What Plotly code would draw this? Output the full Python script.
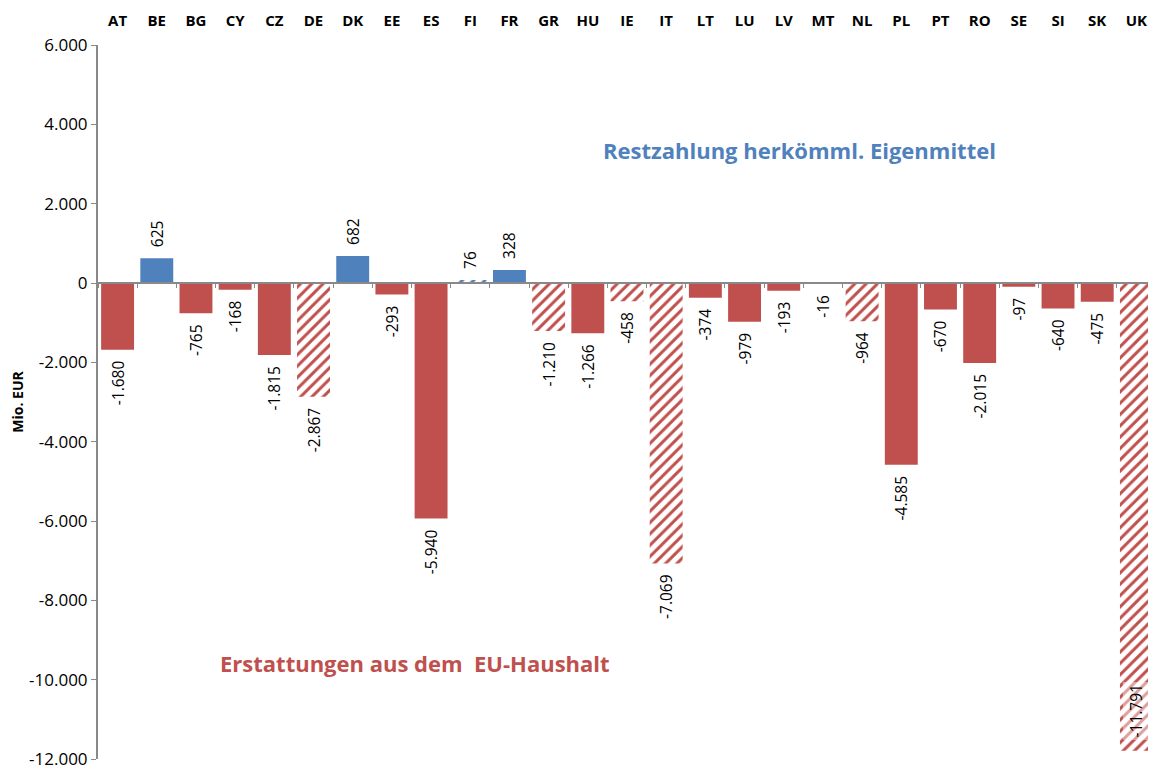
import plotly.graph_objects as go

countries = ["AT", "BE", "BG", "CY", "CZ", "DE", "DK", "EE", "ES", "FI", "FR", "GR", "HU", "IE",
             "IT", "LT", "LU", "LV", "MT", "NL", "PL", "PT", "RO", "SE", "SI", "SK", "UK"]
values = [-1680, 625, -765, -168, -1815, -2867, 682, -293, -5940, 76, 328, -1210, -1266, -458,
          -7069, -374, -979, -193, -16, -964, -4585, -670, -2015, -97, -640, -475, -11791]
hatched = ["DE", "FI", "GR", "IE", "IT", "NL", "UK"]
inside_label = ["UK"]

label_pos = "Restzahlung herkömml. Eigenmittel"
label_neg = "Erstattungen aus dem  EU-Haushalt"
y_ticks = [6000, 4000, 2000, 0, -2000, -4000, -6000, -8000, -10000, -12000]

BLUE = "#4F81BD"
RED = "#C0504D"
FONT = "Open Sans"
PAD = "\u00a0\u00a0"


def fmt(v):
    s = f"{abs(v):,}".replace(",", ".")
    return ("-" if v < 0 else "") + s


colors = [BLUE if v > 0 else RED for v in values]
shapes = ["/" if c in hatched else "" for c in countries]
texts = []
for c, v in zip(countries, values):
    if c in inside_label:
        texts.append("")
    elif v >= 0:
        texts.append(PAD + fmt(v))
    else:
        texts.append(fmt(v) + PAD)

fig = go.Figure()
fig.add_trace(go.Bar(
    x=countries, y=values,
    marker=dict(color=colors, line=dict(width=0),
                pattern=dict(shape=shapes, bgcolor=colors, fgcolor="white",
                             size=8, solidity=0.38, fillmode="replace")),
    text=texts, textposition="outside", textangle=-90, constraintext="none",
    textfont=dict(family=FONT, size=15.5, color="#000000"),
    cliponaxis=False, showlegend=False, hoverinfo="skip",
))
# axis line at zero with boundary ticks
fig.add_trace(go.Bar(x=countries, y=[0] * len(countries), xaxis="x2", showlegend=False,
                     hoverinfo="skip", marker=dict(color="rgba(0,0,0,0)")))

for c, v in zip(countries, values):
    if c in inside_label:
        fig.add_annotation(x=c, y=v + 1000, yanchor="middle", text=fmt(v), textangle=-90,
                           showarrow=False, bgcolor="rgba(255,255,255,0.45)", borderpad=2,
                           font=dict(family=FONT, size=15.5, color="#000000"))

fig.add_annotation(x=17.4, y=3350, text=f"<b>{label_pos}</b>", showarrow=False,
                   font=dict(family=FONT, size=22, color=BLUE))
fig.add_annotation(x=7.6, y=-9580, text=f"<b>{label_neg}</b>", showarrow=False,
                   font=dict(family=FONT, size=22, color=RED))

fig.update_layout(
    width=1148, height=759,
    margin=dict(l=90, r=0, t=37, b=8, autoexpand=False),
    plot_bgcolor="white", paper_bgcolor="white",
    barmode="overlay", bargap=0.16,
    font=dict(family=FONT, color="#000000"),
    xaxis=dict(side="top", showline=False, showgrid=False, zeroline=False, automargin=False,
               ticks="outside", ticklen=12, tickcolor="rgba(0,0,0,0)",
               tickfont=dict(family=FONT, size=15, color="#000000", weight="bold"),
               range=[-0.5, 26.5], fixedrange=True),
    xaxis2=dict(overlaying="x", matches="x", anchor="free", position=2 / 3, automargin=False,
                showline=True, linecolor="#898989", linewidth=2,
                ticks="outside", ticklen=4, tickcolor="#898989", tickwidth=1,
                tickson="boundaries", showticklabels=False, showgrid=False, zeroline=False),
    yaxis=dict(range=[-12000, 6000], tickvals=y_ticks, ticktext=[fmt(t) for t in y_ticks],
               showgrid=False, zeroline=False, showline=True, linecolor="#898989",
               linewidth=2, ticks="outside", ticklen=5, tickcolor="#898989", automargin=False,
               ticklabeloverflow="allow",
               tickfont=dict(family=FONT, size=17, color="#000000"),
               title=dict(text="<b>Mio. EUR</b>", font=dict(family=FONT, size=14), standoff=10)),
)

fig.write_html("out.html")
